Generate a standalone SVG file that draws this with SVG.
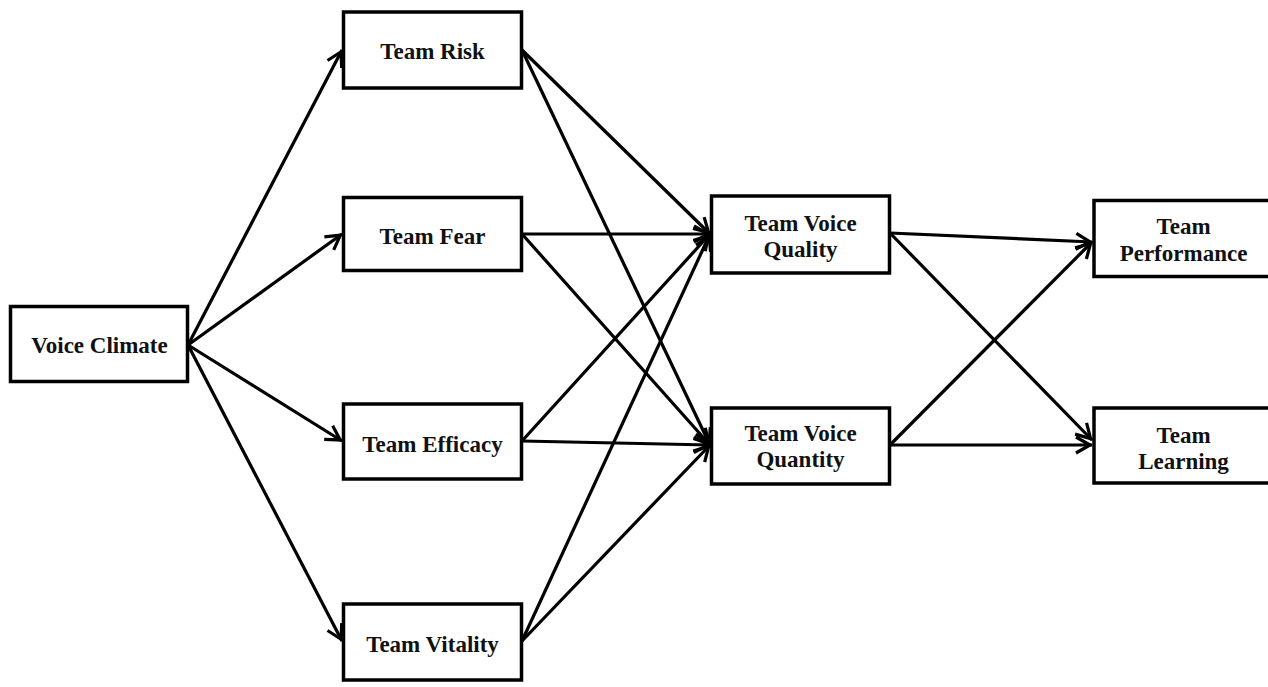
<svg xmlns="http://www.w3.org/2000/svg" width="1268" height="687" viewBox="0 0 1268 687">
  <style>
    .box { fill: #fff; stroke: #000; stroke-width: 3.5; }
    .lbl { font-family: "Liberation Serif", "Times New Roman", serif; font-weight: bold; font-size: 23px; fill: #111; text-anchor: middle; }
    .edge { stroke: #000; stroke-width: 3.2; fill: none; marker-end: url(#arr); }
  </style>
  <defs>
    <marker id="arr" markerUnits="userSpaceOnUse" markerWidth="22" markerHeight="22" refX="17" refY="10" orient="auto" overflow="visible">
      <path d="M1,2 L15,10 L1,18" fill="none" stroke="#000" stroke-width="3.2" stroke-linejoin="miter"/>
    </marker>
  </defs>
  <rect width="1268" height="687" fill="#fff"/>

  <!-- connectors -->
  <g id="connectors">
    <line class="edge" x1="188" y1="345" x2="342" y2="50"/>
    <line class="edge" x1="188" y1="345" x2="342" y2="234"/>
    <line class="edge" x1="188" y1="345" x2="342" y2="441"/>
    <line class="edge" x1="188" y1="345" x2="342" y2="641"/>

    <line class="edge" x1="522" y1="50" x2="710" y2="234"/>
    <line class="edge" x1="522" y1="50" x2="710" y2="445"/>
    <line class="edge" x1="522" y1="234" x2="710" y2="234"/>
    <line class="edge" x1="522" y1="234" x2="710" y2="445"/>
    <line class="edge" x1="522" y1="441" x2="710" y2="234"/>
    <line class="edge" x1="522" y1="441" x2="710" y2="445"/>
    <line class="edge" x1="522" y1="641" x2="710" y2="234"/>
    <line class="edge" x1="522" y1="641" x2="710" y2="445"/>

    <line class="edge" x1="890" y1="233" x2="1092" y2="242"/>
    <line class="edge" x1="890" y1="233" x2="1092" y2="440"/>
    <line class="edge" x1="890" y1="445" x2="1092" y2="242"/>
    <line class="edge" x1="890" y1="445" x2="1092" y2="445"/>
  </g>

  <g id="voice-climate">
    <rect class="box" x="10.5" y="306.5" width="177" height="75"/>
    <text class="lbl" x="99.5" y="352.5">Voice Climate</text>
  </g>

  <g id="team-risk">
    <rect class="box" x="343.5" y="12" width="178" height="76"/>
    <text class="lbl" x="432.5" y="58.5">Team Risk</text>
  </g>

  <g id="team-fear">
    <rect class="box" x="343.5" y="197.5" width="178" height="73"/>
    <text class="lbl" x="432.5" y="243.5">Team Fear</text>
  </g>

  <g id="team-efficacy">
    <rect class="box" x="343.5" y="404" width="178" height="75"/>
    <text class="lbl" x="432.5" y="451.5">Team Efficacy</text>
  </g>

  <g id="team-vitality">
    <rect class="box" x="343.5" y="604" width="178" height="76"/>
    <text class="lbl" x="432.5" y="651.5">Team Vitality</text>
  </g>

  <g id="team-voice-quality">
    <rect class="box" x="711.5" y="196" width="178" height="77"/>
    <text class="lbl" x="800.5" y="230.5">Team Voice</text>
    <text class="lbl" x="800.5" y="256.5">Quality</text>
  </g>

  <g id="team-voice-quantity">
    <rect class="box" x="711.5" y="408" width="178" height="76"/>
    <text class="lbl" x="800.5" y="440.5">Team Voice</text>
    <text class="lbl" x="800.5" y="466.5">Quantity</text>
  </g>

  <g id="team-performance">
    <rect class="box" x="1094" y="200.5" width="179" height="76"/>
    <text class="lbl" x="1183.5" y="233.5">Team</text>
    <text class="lbl" x="1183.5" y="261">Performance</text>
  </g>

  <g id="team-learning">
    <rect class="box" x="1094" y="408" width="179" height="75"/>
    <text class="lbl" x="1183.5" y="442.5">Team</text>
    <text class="lbl" x="1183.5" y="468.5">Learning</text>
  </g>
</svg>
